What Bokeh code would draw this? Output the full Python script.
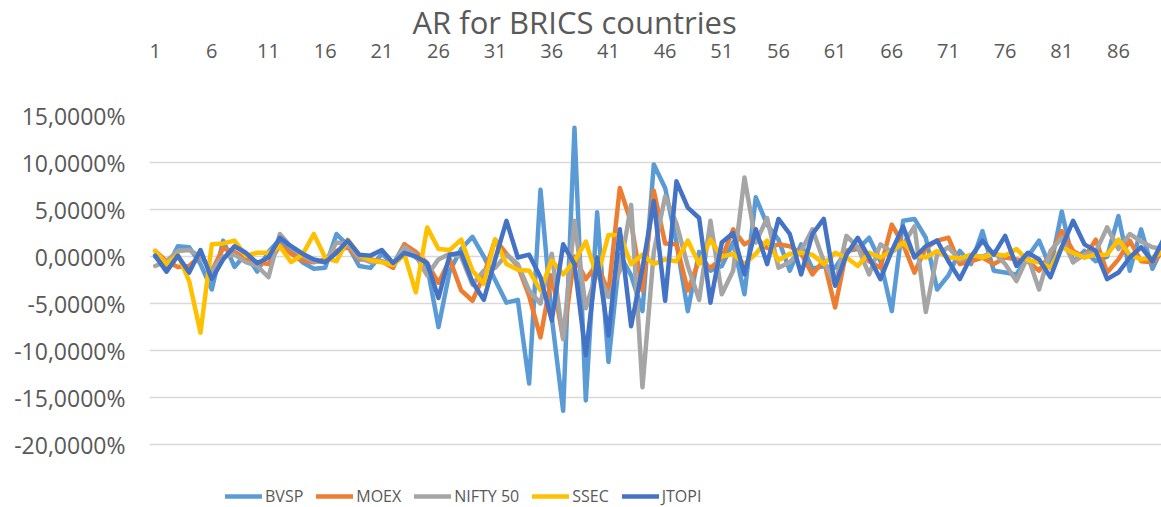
from bokeh.plotting import figure
from bokeh.models import (Range1d, FixedTicker, CustomJSTickFormatter, Legend,
                          LegendItem, ColumnDataSource, Title)
from bokeh.embed import file_html
from bokeh.resources import INLINE

# ---------------- data (abnormal returns, in %) ----------------
days = list(range(1, 91))

bvsp = [0.0, -1.3, 1.1, 1.0, -0.8, -3.5, 1.7, -1.1, 0.3, -1.6,
        0.5, 1.8, 0.5, -0.6, -1.3, -1.2, 2.4, 1.2, -1.0, -1.2,
        0.3, -0.8, 1.3, -0.1, -1.0, -7.5, -1.5, 0.8, 2.1, 0.0,
        -2.5, -4.9, -4.6, -13.5, 7.1, -6.5, -16.4, 13.7, -15.3, 4.7,
        -11.2, 0.2, -2.0, -5.8, 9.8, 7.3, 1.5, -5.8, 0.5, -1.5,
        -1.0, 1.5, -4.0, 6.3, 3.4, 1.8, -1.5, 1.3, -1.3, -1.0,
        -1.2, 0.6, 0.8, 2.0, -0.5, -5.8, 3.8, 4.0, 2.0, -3.5,
        -2.0, 0.6, -0.8, 2.7, -1.5, -1.7, -1.9, 0.0, 1.7, -1.2,
        4.8, -0.6, 0.6, -0.5, 0.0, 4.3, -1.5, 2.9, -1.3, 1.3]

moex = [0.6, -0.5, -1.1, -1.0, 0.1, -1.5, 0.9, 0.5, -0.2, -0.6,
        -0.8, 1.2, 0.3, -0.4, -0.6, -0.3, 0.6, 1.0, -0.3, -0.3,
        -0.5, -1.2, 1.3, 0.5, -0.7, -2.8, -0.3, -3.6, -4.7, -2.0,
        1.8, 0.3, -1.0, -4.2, -8.6, -2.0, -8.7, 0.0, -2.4, -0.8,
        -3.8, 7.3, 3.6, -3.6, 7.0, 1.4, 1.3, -3.6, -0.4, -1.2,
        -0.2, 2.9, 1.3, 2.0, 0.9, 1.3, 1.1, 0.3, -1.9, -0.4,
        -5.4, 0.6, 1.0, -0.5, -1.2, 3.4, 1.3, -1.7, 0.9, 1.7,
        2.0, -0.8, -0.5, -0.1, -0.8, -0.1, -0.3, -0.5, -1.5, 0.2,
        2.7, 0.6, -0.1, 1.8, -1.7, -0.3, 1.7, -0.5, -0.6, 0.6]

nifty = [-1.0, -0.5, 0.6, 0.7, 0.0, -1.4, 0.0, 0.2, -0.6, -1.0,
         -2.2, 2.4, 1.0, 0.1, -0.5, -0.6, 1.5, 1.3, -0.1, -0.6,
         -0.5, -0.8, 1.0, 0.1, -2.0, -0.3, 0.3, 0.0, -3.0, -1.5,
         -1.2, 0.2, -0.8, -3.6, -5.0, 0.3, -8.8, 3.8, -5.5, -1.5,
         -4.3, -1.5, 5.5, -13.9, 0.5, 6.4, 3.5, -1.0, -4.6, 3.8,
         -4.0, -1.5, 8.4, 1.5, 4.1, -1.2, -0.6, 0.6, 2.9, -0.5,
         -3.0, 2.2, 1.0, -1.9, 1.3, 0.5, 1.3, 3.2, -5.9, 0.2,
         1.0, -0.4, 0.1, 0.0, 0.5, -0.8, -2.6, 0.0, -3.5, 0.6,
         2.0, -0.6, 0.2, 0.5, 3.1, 0.8, 2.4, 1.6, 1.0, 0.8]

ssec = [0.6, -0.8, 0.2, -2.6, -8.1, 1.3, 1.4, 1.7, 0.1, 0.4,
        0.4, 1.1, -0.6, 0.2, 2.4, -0.1, -0.5, 1.8, 0.2, -0.4,
        -0.6, -0.9, 0.2, -3.8, 3.1, 0.8, 0.7, 1.8, -1.5, -2.9,
        1.8, -0.8, -1.4, -1.5, -3.6, -0.4, -1.9, -0.5, 1.6, -2.2,
        2.3, 2.3, -0.8, 0.2, -0.8, -0.3, -0.5, 1.7, -0.8, 1.8,
        0.0, 0.3, -0.8, 0.3, 1.7, -0.4, 0.3, 0.4, 0.2, -0.8,
        0.4, -0.1, -1.0, 0.4, -0.1, 0.6, 1.5, 0.2, -0.1, 0.6,
        -0.1, -0.2, 0.2, -0.1, 0.3, 0.1, 0.8, -0.4, -0.6, -1.2,
        1.0, 0.4, -0.1, 0.2, 0.2, 1.8, 0.2, -0.3, -0.1, 0.6]

jtopi = [0.1, -1.6, 0.1, -1.7, 0.7, -2.4, -0.3, 1.1, 0.4, -0.7,
         -0.1, 2.0, 1.1, 0.3, -0.3, -0.6, 0.4, 1.7, 0.2, 0.1,
         0.7, -0.7, 0.4, 0.0, -0.7, -4.4, 0.2, 0.4, -2.7, -4.6,
         -0.3, 3.8, -0.1, 0.2, -2.2, -6.8, 1.3, -0.8, -10.5, -0.1,
         -8.4, 2.9, -7.4, -1.2, 5.9, -4.7, 8.0, 5.2, 4.1, -4.9,
         1.5, 2.5, -1.9, 2.9, -0.8, 4.0, 2.4, -1.9, 2.4, 4.0,
         -3.1, 0.2, 2.0, -0.1, -2.4, 0.6, 3.2, -0.1, 1.1, 1.7,
         -0.5, -2.4, 0.0, 1.7, 0.2, 2.2, -1.0, 0.4, -0.3, -2.2,
         1.0, 3.8, 1.3, 0.6, -2.4, -1.7, -0.1, 1.0, -0.5, 1.9]

series_names = ["BVSP", "MOEX", "NIFTY 50", "SSEC", "JTOPI"]
series_values = [bvsp, moex, nifty, ssec, jtopi]
series_colors = ["#5B9BD5", "#ED7D31", "#A5A5A5", "#FFC000", "#4472C4"]

x_tick_values = list(range(1, 90, 5))
y_tick_values = [-20, -15, -10, -5, 0, 5, 10, 15]
title_text = "AR for BRICS countries"

# ---------------- figure ----------------
TEXT = "#595959"
FONT = "Open Sans"

# the frame extends below the -20% gridline so the legend sits inside it
GRID_SPAN_PX = 330.0          # pixels between the 15% and -20% gridlines
LEGEND_BAND_PX = 63.0         # room below the last gridline for the legend
y_low = -20 - LEGEND_BAND_PX * 35.0 / GRID_SPAN_PX

p = figure(width=1161, height=507, output_backend="svg", toolbar_location=None,
           x_range=Range1d(0.5, 89.8), y_range=Range1d(y_low, 15),
           x_axis_location="above",
           min_border_left=149, min_border_right=0,
           min_border_top=114, min_border_bottom=0)
p.outline_line_color = None
p.background_fill_color = "white"
p.border_fill_color = "white"

p.title = Title(text=title_text, align="left", offset=263, text_font=FONT,
                text_font_size="31px", text_font_style="normal",
                text_color=TEXT, standoff=-4)

# grid
p.xgrid.visible = False
p.ygrid.grid_line_color = "#D9D9D9"
p.ygrid.grid_line_width = 1.5

# y axis
p.yaxis.ticker = FixedTicker(ticks=y_tick_values)
p.yaxis.formatter = CustomJSTickFormatter(
    code="return tick.toFixed(4).replace('.', ',') + '%';")
p.yaxis.axis_line_color = None
p.yaxis.major_tick_line_color = None
p.yaxis.minor_tick_line_color = None
p.yaxis.major_tick_out = 0
p.yaxis.major_label_standoff = 24
p.yaxis.major_label_text_font = FONT
p.yaxis.major_label_text_font_size = "23px"
p.yaxis.major_label_text_color = TEXT

# x axis (top)
p.xaxis.ticker = FixedTicker(ticks=x_tick_values)
p.xaxis.axis_line_color = None
p.xaxis.major_tick_line_color = None
p.xaxis.minor_tick_line_color = None
p.xaxis.major_tick_out = 0
p.xaxis.major_label_standoff = 58
p.xaxis.major_label_text_font = FONT
p.xaxis.major_label_text_font_size = "20px"
p.xaxis.major_label_text_color = TEXT

# lines
items = []
for name, vals, col in zip(series_names, series_values, series_colors):
    src = ColumnDataSource(dict(x=days[:len(vals)], y=vals))
    r = p.line("x", "y", source=src, line_color=col, line_width=4.5,
               line_join="round", line_cap="round")
    items.append(LegendItem(label=name, renderers=[r]))

legend = Legend(items=items, orientation="horizontal", location=(76, 0),
                glyph_width=37, glyph_height=20, label_standoff=3, spacing=13,
                padding=0, margin=0, border_line_color=None,
                background_fill_alpha=0,
                label_text_font=FONT, label_text_font_size="16px",
                label_text_color=TEXT)
p.add_layout(legend)

open("out.html", "w").write(file_html(p, INLINE))
